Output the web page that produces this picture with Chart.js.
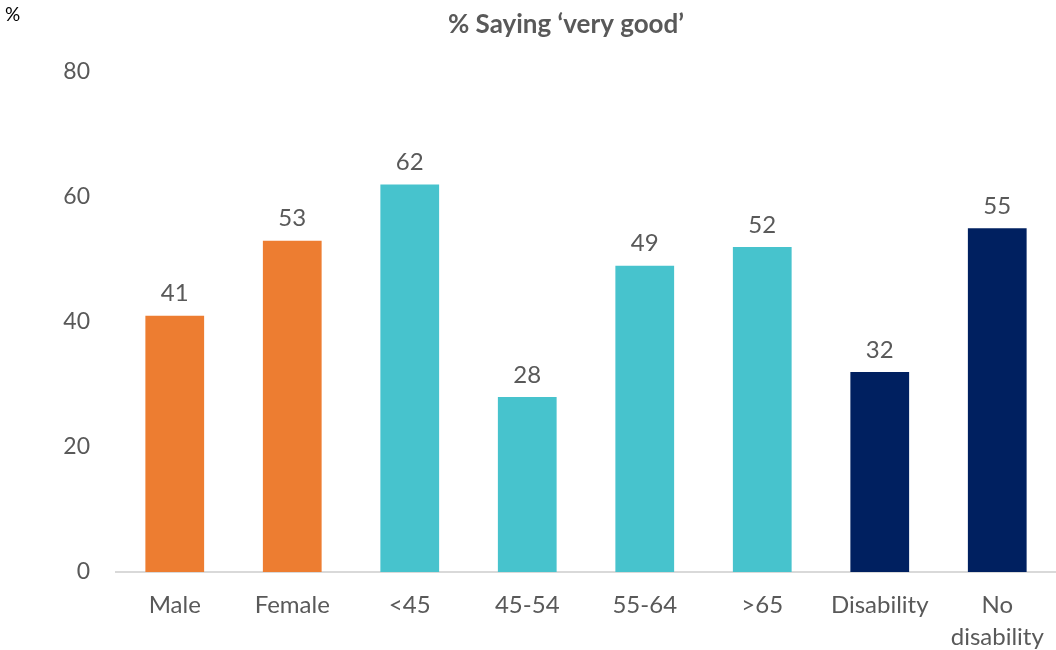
<!DOCTYPE html>
<html>
<head>
<meta charset="utf-8">
<script src="https://cdn.jsdelivr.net/npm/chart.js@4"></script>
<style>
    html, body { margin: 0; padding: 0; background: #ffffff; }
    #wrap { width: 1056px; height: 650px; position: relative; }
</style>
</head>
<body>
<div id="wrap"><canvas id="grafico"></canvas></div>
<script>
// categorias e valores
const categorias = ["Male", "Female", "<45", "45-54", "55-64", ">65", "Disability", ["No", "disability"]];
const valores = [41, 53, 62, 28, 49, 52, 32, 55];
const cores = ["#ED7D31", "#ED7D31", "#47C3CD", "#47C3CD", "#47C3CD", "#47C3CD", "#002060", "#002060"];
const ticksY = [0, 20, 40, 60, 80];
const titulo = "% Saying \u2018very good\u2019";
const unidade = "%";

const FONTE = "Lato, 'Open Sans', sans-serif";
const CINZA = "#595959";

// rótulos de valor acima das barras + título e unidade
const rotulosPlugin = {
    id: "rotulos",
    afterDatasetsDraw(chart) {
        const ctx = chart.ctx;
        const meta = chart.getDatasetMeta(0);
        ctx.save();
        ctx.font = "24px " + FONTE;
        ctx.fillStyle = CINZA;
        ctx.textAlign = "center";
        ctx.textBaseline = "bottom";
        meta.data.forEach((bar, i) => {
            ctx.fillText(String(valores[i]), bar.x, bar.y - 10);
        });

        ctx.font = "bold 26px " + FONTE;
        ctx.textBaseline = "middle";
        ctx.fillText(titulo, 566, 25);

        ctx.font = "19px " + FONTE;
        ctx.fillStyle = "#000000";
        ctx.textAlign = "left";
        ctx.fillText(unidade, 5, 15);
        ctx.restore();
    }
};

const ctx = document.getElementById("grafico");

new Chart(ctx, {
    type: "bar",
    data: {
        labels: categorias,
        datasets: [{
            data: valores,
            backgroundColor: cores,
            barPercentage: 0.5,
            categoryPercentage: 1.0
        }]
    },
    options: {
        responsive: true,
        maintainAspectRatio: false,
        animation: false,
        layout: { padding: { top: 72, right: 0, left: 0, bottom: 0 } },
        plugins: {
            legend: { display: false },
            tooltip: { enabled: false }
        },
        scales: {
            x: {
                grid: { display: false, drawTicks: false },
                border: { display: true, color: "#D9D9D9", width: 2 },
                ticks: {
                    color: CINZA,
                    font: { family: FONTE, size: 24, lineHeight: 1.3 },
                    padding: 18,
                    maxRotation: 0,
                    autoSkip: false
                },
                afterFit: (s) => {
                    s.height = 78;
                    s.paddingLeft = 0;
                    s.paddingRight = 0;
                }
            },
            y: {
                min: 0,
                max: 80,
                afterBuildTicks: (s) => { s.ticks = ticksY.map(v => ({ value: v })); },
                grid: { display: false, drawTicks: false },
                border: { display: false },
                ticks: {
                    color: CINZA,
                    font: { family: FONTE, size: 23 },
                    padding: 26
                },
                afterFit: (s) => { s.width = 116; }
            }
        }
    },
    plugins: [rotulosPlugin]
});
</script>
</body>
</html>
